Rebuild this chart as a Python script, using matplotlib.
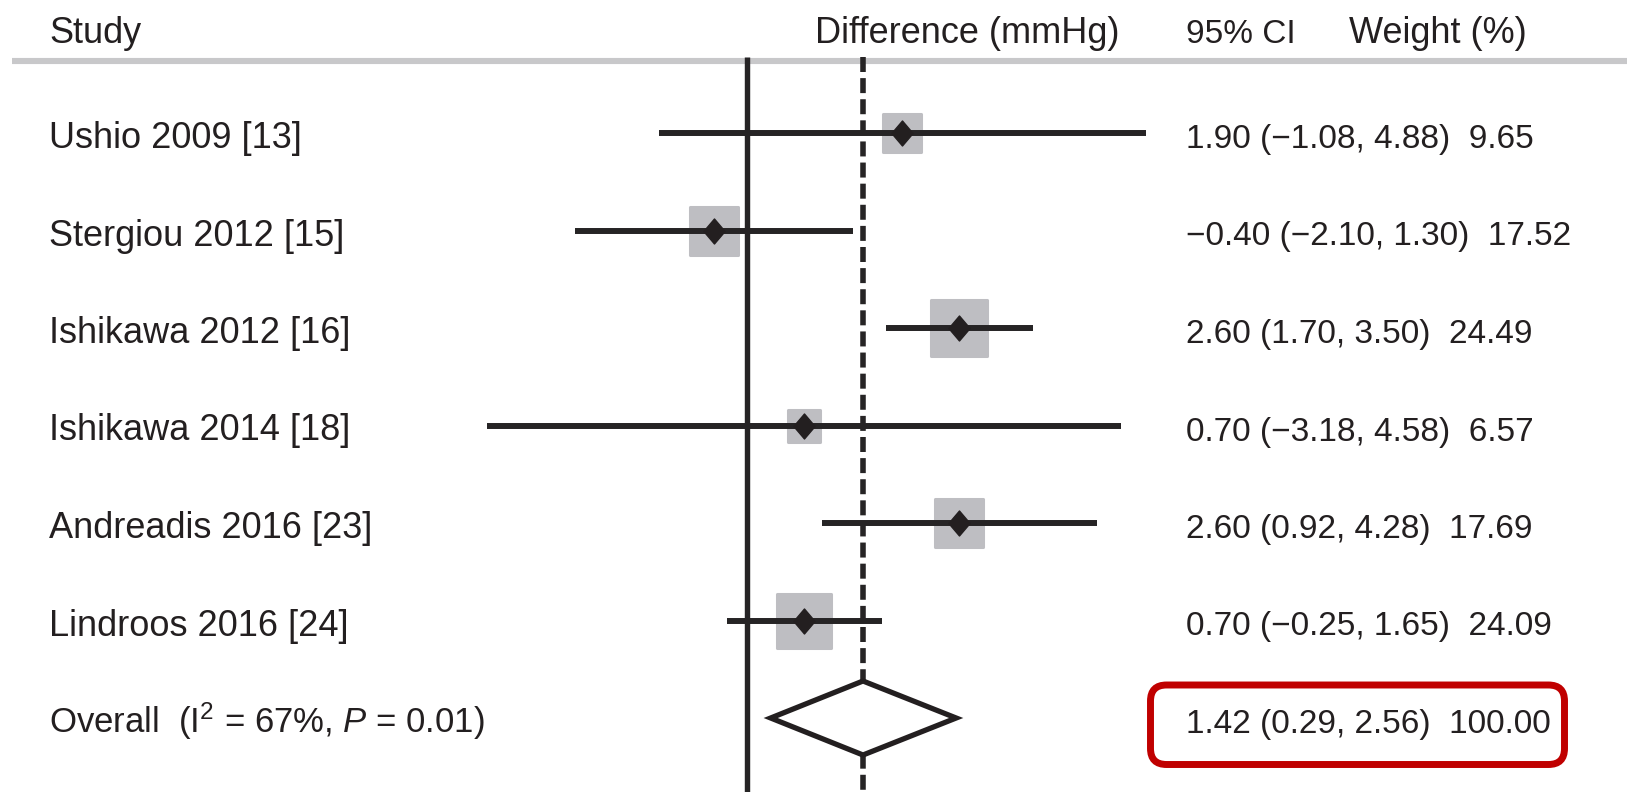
import matplotlib
matplotlib.use("Agg")
import matplotlib.pyplot as plt
import numpy as np
from matplotlib import font_manager, transforms
from matplotlib.markers import MarkerStyle
from matplotlib.patches import FancyBboxPatch, Polygon
from matplotlib.path import Path

# ---------------- data ----------------
studies = ["Ushio 2009 [13]", "Stergiou 2012 [15]", "Ishikawa 2012 [16]",
           "Ishikawa 2014 [18]", "Andreadis 2016 [23]", "Lindroos 2016 [24]"]
estimate = [1.90, -0.40, 2.60, 0.70, 2.60, 0.70]
ci_low = [-1.08, -2.10, 1.70, -3.18, 0.92, -0.25]
ci_high = [4.88, 1.30, 3.50, 4.58, 4.28, 1.65]
weights = [9.65, 17.52, 24.49, 6.57, 17.69, 24.09]
overall_est = 1.42
overall_low = 0.29
overall_high = 2.56
overall_weight = 100.00
i2_pct = 67
p_value = 0.01
headers = ["Study", "Difference (mmHg)", "95% CI", "Weight (%)"]

# ---------------- fonts ----------------
def available(name):
    try:
        font_manager.findfont(font_manager.FontProperties(family=name),
                              fallback_to_default=False)
        return True
    except Exception:
        return False

main_font = "Liberation Sans" if available("Liberation Sans") else "DejaVu Sans"
families = [main_font, "DejaVu Sans"]
plt.rcParams["font.family"] = families
plt.rcParams["mathtext.fontset"] = "custom"
plt.rcParams["mathtext.rm"] = main_font
plt.rcParams["mathtext.it"] = main_font + ":italic"
plt.rcParams["mathtext.default"] = "rm"

FS_LABEL = 26
FS_OVERALL = 25
FS_NUM = 24
FS_HEAD = 26
FS_CIHEAD = 24

TXT = "#231f20"
LINE = "#262425"
GRAY = "#bebec2"

# ---------------- layout (pixels) ----------------
W, H, DPI = 1627, 792, 100
x0_px, ppu = 747, 81.7          # x pixel of zero, pixels per mmHg
row0_px, row_px = 133, 97.5     # first row centre, row spacing

fig = plt.figure(figsize=(W / DPI, H / DPI), dpi=DPI)
ax = fig.add_axes([0, 0, 1, 1])
ax.set_xlim(-x0_px / ppu, (W - x0_px) / ppu)
ax.set_ylim((H - row0_px) / row_px, -row0_px / row_px)
ax.axis("off")

def ypx(p):
    return (p - row0_px) / row_px

n = len(studies)
rows = np.arange(n)
overall_row = n

# header rule
ax.hlines(ypx(60.5), (12 - x0_px) / ppu, (W - x0_px) / ppu,
          color="#c8c8ca", lw=4.4, zorder=1)

# reference lines
ax.vlines(0, ypx(57), ypx(H + 5), color=LINE, lw=3.9, zorder=2)
ax.vlines(overall_est, ypx(57), ypx(H + 5), color=LINE, lw=4.0,
          linestyles=(0, (2.7, 1.1)), zorder=2)

# squares (size from weight)
sq_marker = MarkerStyle("s", joinstyle="round")
for r, e, w in zip(rows, estimate, weights):
    side_px = 9.77 * np.sqrt(w) + 9.66 - 3
    ax.plot(e, r, marker=sq_marker, ms=side_px * 72 / DPI, mfc=GRAY,
            mec=GRAY, mew=2.2, ls="none", zorder=3)

# CI lines
ax.hlines(rows, ci_low, ci_high, color=LINE, lw=4.3, zorder=4)

# point diamonds
dia = Path([(0, 1), (0.85, 0), (0, -1), (-0.85, 0), (0, 1)],
           [Path.MOVETO, Path.LINETO, Path.LINETO, Path.LINETO, Path.CLOSEPOLY])
ax.plot(estimate, rows, marker=dia, ms=18, color=TXT, ls="none", zorder=5)

# overall diamond
hh = 37 / row_px
ax.add_patch(Polygon([(overall_low, overall_row), (overall_est, overall_row - hh),
                      (overall_high, overall_row), (overall_est, overall_row + hh)],
                     closed=True, fc="white", ec=TXT, lw=3.8, joinstyle="miter",
                     zorder=5))

# ---------------- text ----------------
tr = transforms.blended_transform_factory(fig.transFigure, ax.transData)
base = 15 / row_px
xl, xr = 49 / W, 1186 / W

def fmt(v):
    return f"{v:.2f}".replace("-", "\u2212")

hy = ypx(43)
ax.text(xl, hy, headers[0], transform=tr, fontsize=FS_HEAD, color=TXT, va="baseline")
ax.text(815 / W, hy, headers[1], transform=tr, fontsize=FS_HEAD, color=TXT, va="baseline")
ax.text(xr, hy, headers[2], transform=tr, fontsize=FS_CIHEAD, color=TXT, va="baseline")
ax.text(1349 / W, hy, headers[3], transform=tr, fontsize=FS_HEAD, color=TXT, va="baseline")

for r, s, e, lo, hi, w in zip(rows, studies, estimate, ci_low, ci_high, weights):
    ax.text(xl, r + base, s, transform=tr, fontsize=FS_LABEL, color=TXT, va="baseline")
    ax.text(xr, r + base, f"{fmt(e)} ({fmt(lo)}, {fmt(hi)})  {fmt(w)}",
            transform=tr, fontsize=FS_NUM, color=TXT, va="baseline")

ax.text(xl, overall_row + base,
        f"Overall  (I$^{{2}}$ = {i2_pct}%, $\\mathit{{P}}$ = {p_value:.2f})",
        transform=tr, fontsize=FS_OVERALL, color=TXT, va="baseline")
ax.text(xr, overall_row + base,
        f"{fmt(overall_est)} ({fmt(overall_low)}, {fmt(overall_high)})  {fmt(overall_weight)}",
        transform=tr, fontsize=FS_NUM, color=TXT, va="baseline")

# highlight box around overall result
box = FancyBboxPatch((11.505, 0.275), 4.14, 0.795,
                     boxstyle="round,pad=0,rounding_size=0.16",
                     transform=fig.dpi_scale_trans, fill=False,
                     ec="#c00000", lw=5.0, zorder=6)
fig.patches.append(box)

fig.savefig("out.png", dpi=DPI)
